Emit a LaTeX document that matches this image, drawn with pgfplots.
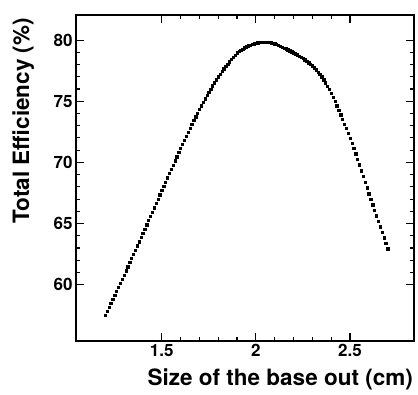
\documentclass[border=0pt]{standalone}
\usepackage{fontspec}
\setmainfont{TeX Gyre Heros}
\usepackage{pgfplots}
\pgfplotsset{compat=1.18}
\begin{document}
\begin{tikzpicture}
\begin{axis}[
  scale only axis,
  width=338pt, height=326pt,
  xmin=1.045, xmax=2.84,
  ymin=55.4, ymax=82.05,
  xtick={1.5,2,2.5},
  minor x tick num=4,
  ytick={60,65,70,75,80},
  minor y tick num=4,
  tick align=inside,
  major tick length=8pt,
  minor tick length=4pt,
  every tick/.style={black, line width=1.1pt},
  axis line style={line width=1.6pt},
  /pgf/number format/assume math mode=true,
  tick label style={font=\fontsize{17}{17}\selectfont\bfseries},
  xlabel={Size of the base out (cm)},
  ylabel={Total Efficiency (\%)},
  xlabel style={at={(rel axis cs:0.997,-0.135)}, anchor=base east, font=\fontsize{22.5}{24}\selectfont\bfseries, inner sep=0pt},
  ylabel style={at={(rel axis cs:-0.139,0.991)}, anchor=base east, font=\fontsize{22.5}{24}\selectfont\bfseries, inner sep=0pt},
]
\addplot[only marks, mark=square*, mark size=1.15pt, black] table {
x y
1.20 57.50
1.21 57.83
1.22 58.16
1.23 58.49
1.24 58.82
1.25 59.15
1.26 59.48
1.27 59.81
1.28 60.14
1.29 60.47
1.30 60.80
1.31 61.14
1.32 61.48
1.33 61.82
1.34 62.16
1.35 62.50
1.36 62.84
1.37 63.18
1.38 63.52
1.39 63.86
1.40 64.20
1.41 64.55
1.42 64.90
1.43 65.25
1.44 65.60
1.45 65.95
1.46 66.30
1.47 66.65
1.48 67.00
1.49 67.35
1.50 67.70
1.51 68.05
1.52 68.40
1.53 68.75
1.54 69.10
1.55 69.45
1.56 69.79
1.57 70.13
1.58 70.47
1.59 70.81
1.60 71.15
1.61 71.48
1.62 71.81
1.63 72.14
1.64 72.47
1.65 72.80
1.66 73.12
1.67 73.43
1.68 73.74
1.69 74.05
1.70 74.35
1.71 74.64
1.72 74.92
1.73 75.20
1.74 75.48
1.75 75.75
1.76 76.01
1.77 76.26
1.78 76.51
1.79 76.76
1.80 77.00
1.81 77.23
1.82 77.45
1.83 77.66
1.84 77.86
1.85 78.05
1.86 78.24
1.87 78.43
1.88 78.61
1.89 78.79
1.90 78.96
1.91 79.07
1.92 79.18
1.93 79.28
1.94 79.37
1.95 79.45
1.96 79.53
1.97 79.60
1.98 79.66
1.99 79.71
2.00 79.75
2.01 79.79
2.02 79.81
2.03 79.83
2.04 79.85
2.05 79.85
2.06 79.84
2.07 79.82
2.08 79.79
2.09 79.75
2.10 79.70
2.11 79.64
2.12 79.57
2.13 79.50
2.14 79.43
2.15 79.36
2.16 79.29
2.17 79.22
2.18 79.14
2.19 79.05
2.20 78.96
2.21 78.88
2.22 78.80
2.23 78.70
2.24 78.60
2.25 78.50
2.26 78.39
2.27 78.28
2.28 78.16
2.29 78.03
2.30 77.90
2.31 77.74
2.32 77.58
2.33 77.40
2.34 77.21
2.35 77.00
2.36 76.77
2.37 76.52
2.38 76.25
2.39 75.96
2.40 75.65
2.41 75.32
2.42 74.98
2.43 74.63
2.44 74.27
2.45 73.90
2.46 73.53
2.47 73.15
2.48 72.77
2.49 72.39
2.50 72.00
2.51 71.58
2.52 71.15
2.53 70.71
2.54 70.26
2.55 69.80
2.56 69.33
2.57 68.86
2.58 68.39
2.59 67.92
2.60 67.45
2.61 67.00
2.62 66.55
2.63 66.10
2.64 65.65
2.65 65.20
2.66 64.75
2.67 64.30
2.68 63.85
2.69 63.40
2.70 62.95
};
\end{axis}
\path ([xshift=-76pt,yshift=-53pt]current axis.south west) rectangle ([xshift=4pt,yshift=15pt]current axis.north east);
\end{tikzpicture}
\end{document}
